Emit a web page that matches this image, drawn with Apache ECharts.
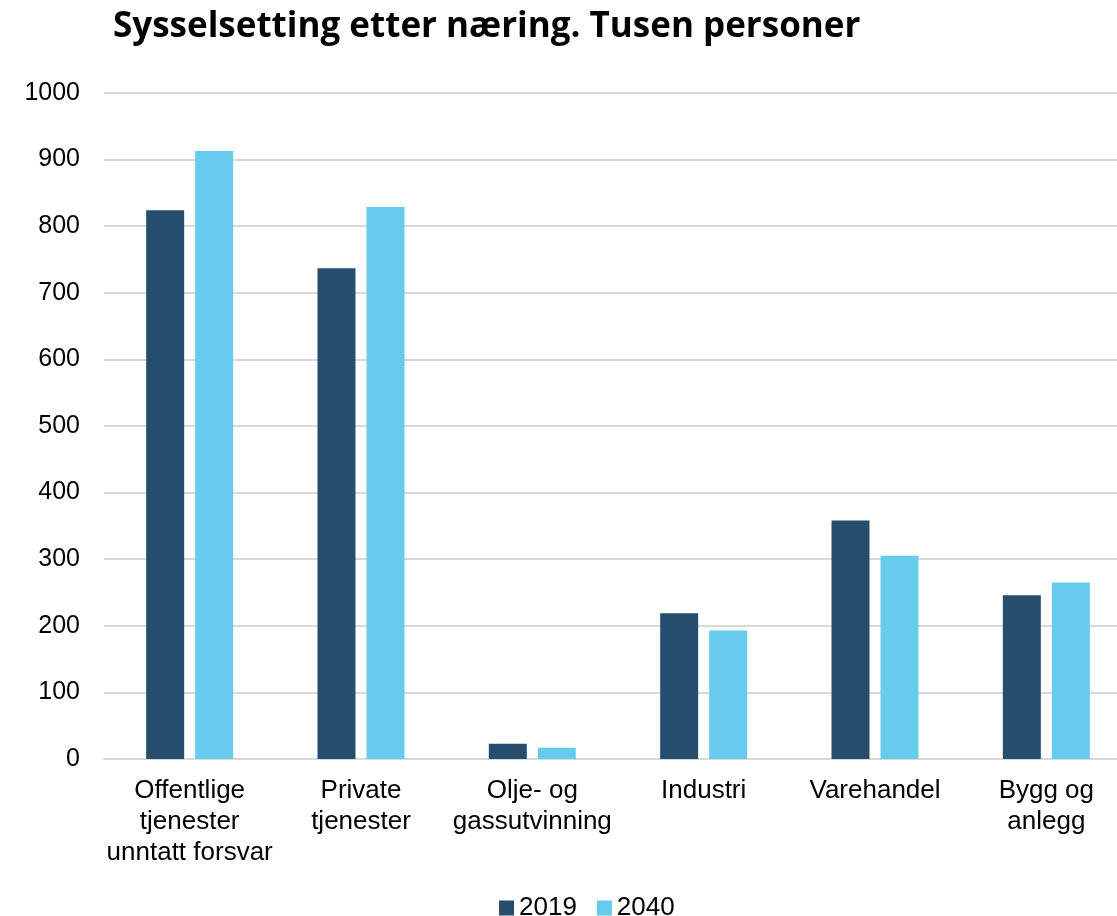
<!DOCTYPE html>
<html>
<head>
<meta charset="utf-8">
<script src="https://cdn.jsdelivr.net/npm/echarts@6/dist/echarts.min.js"></script>
<style>
    html, body { margin: 0; padding: 0; background: #fff; overflow: hidden; }
    #chart { width: 1132px; height: 916px; }
</style>
</head>
<body>
<div id="chart"></div>
<script>
// Sysselsetting etter næring, tusen personer
var categories = ['Offentlige\ntjenester\nunntatt forsvar', 'Private\ntjenester', 'Olje- og\ngassutvinning', 'Industri', 'Varehandel', 'Bygg og\nanlegg'];
var values2019 = [824, 737, 23, 219, 358, 246];
var values2040 = [913, 829, 17, 193, 305, 265];
var seriesNames = ['2019', '2040'];

// plot area runs a bit past the right edge, like the original
var myChart = echarts.init(document.getElementById('chart'));
myChart.setOption({
    animation: false,
    title: {
        text: 'Sysselsetting etter næring. Tusen personer',
        left: 108,
        top: 5,
        textStyle: {
            fontFamily: 'Open Sans',
            fontWeight: 'bold',
            fontSize: 35,
            color: '#000'
        }
    },
    legend: {
        bottom: -10,
        left: 494,
        itemWidth: 15,
        itemHeight: 15,
        itemGap: 20,
        icon: 'rect',
        textStyle: { fontFamily: 'Liberation Sans', fontSize: 26, color: '#000', padding: [0, 0, 0, 0] },
        data: seriesNames
    },
    grid: { left: 104, right: 0, top: 93, bottom: 157, containLabel: false },
    xAxis: {
        type: 'category',
        data: categories,
        axisLine: { lineStyle: { color: '#d9d9d9', width: 2 } },
        axisTick: { show: false },
        axisLabel: {
            interval: 0,
            margin: 16,
            fontFamily: 'Liberation Sans',
            fontSize: 26,
            lineHeight: 31,
            color: '#000'
        }
    },
    yAxis: {
        type: 'value',
        min: 0,
        max: 1000,
        interval: 100,
        axisLine: { show: false },
        axisTick: { show: false },
        splitLine: { lineStyle: { color: '#d9d9d9', width: 2 } },
        axisLabel: {
            margin: 24,
            fontFamily: 'Liberation Sans',
            fontSize: 25,
            color: '#000',
            formatter: function (v) { return String(v); }
        }
    },
    series: [{
        name: seriesNames[0],
        type: 'bar',
        data: values2019,
        barWidth: 38,
        barGap: '29%',
        itemStyle: { color: '#264d6e' }
    }, {
        name: seriesNames[1],
        type: 'bar',
        data: values2040,
        barWidth: 38,
        itemStyle: { color: '#66cbec' }
    }]
});
</script>
</body>
</html>
